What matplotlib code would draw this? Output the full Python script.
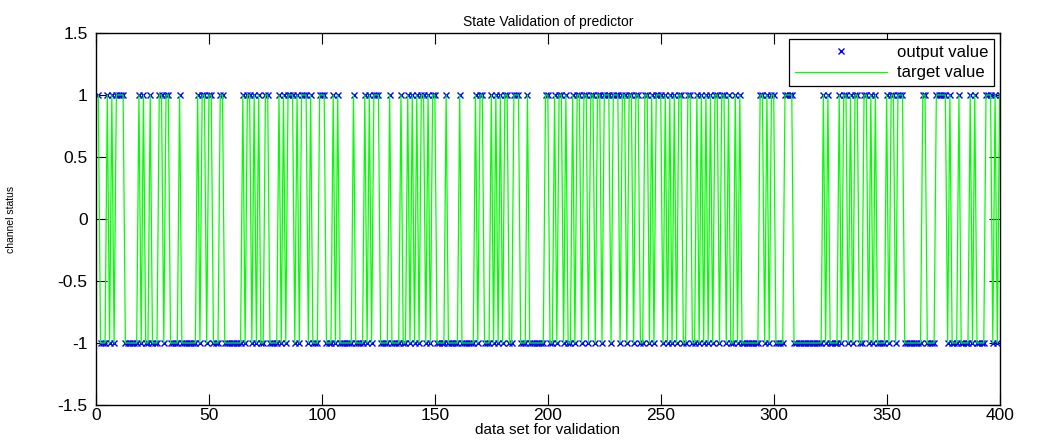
import numpy as np
import matplotlib.pyplot as plt

plt.rcParams['font.family'] = ['Liberation Sans', 'DejaVu Sans']

# channel state per sample (1 = busy, 0 = idle) in blocks of 50
s001_050 = [1,0,0,0,1,0,1,0,1,1, 1,1,0,0,0,0,0,0,1,0, 1,0,0,1,0,0,0,1,1,0, 1,1,0,0,0,0,1,0,0,0, 0,0,0,0,1,0,1,1,0,1]
s051_100 = [1,0,0,0,1,1,0,0,0,0, 0,0,0,0,1,0,1,1,0,1, 0,1,0,0,1,1,0,0,0,0, 1,0,1,0,1,1,1,0,1,0, 1,1,1,0,1,0,0,0,1,1]
s101_150 = [1,0,0,0,1,0,1,0,0,0, 0,0,0,1,0,0,0,0,1,0, 1,0,1,1,1,0,0,0,0,1, 0,0,0,0,1,0,0,1,0,1, 0,1,0,1,1,0,1,0,1,1]
s151_200 = [0,0,0,0,1,0,0,0,0,0, 1,0,0,0,0,0,0,1,0,1, 1,0,0,0,1,0,1,0,1,0, 1,1,0,0,1,1,1,0,0,0, 1,0,0,0,0,0,0,0,1,1]
s201_250 = [0,0,1,0,1,1,0,1,0,0, 1,0,1,1,0,1,1,0,1,1, 0,1,1,0,1,1,1,0,1,1, 1,0,1,1,0,1,1,0,1,1, 0,0,1,1,0,1,0,1,1,1]
s251_300 = [0,1,0,1,0,1,0,1,1,0, 0,1,1,0,0,1,0,1,0,1, 0,1,0,1,1,0,1,1,0,1, 0,0,1,0,1,0,0,0,0,0, 0,0,0,1,1,0,1,0,1,1]
s301_350 = [0,0,0,0,1,1,1,1,0,0, 0,0,0,0,0,0,0,0,0,0, 0,1,0,1,0,0,0,0,1,0, 1,1,0,1,0,1,1,0,0,1, 1,0,1,0,1,0,0,0,0,1]
s351_400 = [0,1,1,0,1,1,1,0,0,0, 0,0,0,0,0,1,1,0,0,0, 0,1,1,1,1,1,0,1,0,0, 0,1,0,0,0,0,1,0,1,0, 0,0,0,1,1,1,0,1,0,1]

states = np.array(s001_050 + s051_100 + s101_150 + s151_200 +
                  s201_250 + s251_300 + s301_350 + s351_400)
target = 2 * states - 1          # -1 / +1
output = target.copy()           # predictor output matches the target
x = np.arange(1, len(target) + 1)

fig = plt.figure(figsize=(10.38, 4.45), dpi=100)
ax = fig.add_axes([0.0925, 0.0899, 0.8705, 0.836])

ax.plot(x, output, 'x', color='#0000ff', markersize=4.5, markeredgewidth=1.0,
        label='output value')
ax.plot(x, target, '-', color='#00ff00', linewidth=0.9, label='target value')

ax.set_xlim(0, 400)
ax.set_ylim(-1.5, 1.5)
ax.set_xticks(np.arange(0, 401, 50))
ax.set_yticks([-1.5, -1, -0.5, 0, 0.5, 1, 1.5])
ax.set_yticklabels(['-1.5', '-1', '-0.5', '0', '0.5', '1', '1.5'])
ax.tick_params(direction='in', top=True, right=True, length=8, width=0.8,
               labelsize=12.5)
ax.tick_params(axis='x', pad=2)
ax.tick_params(axis='y', pad=6)
for sp in ax.spines.values():
    sp.set_linewidth(1.0)

ax.set_title('State Validation of predictor', fontsize=10, pad=5)
ax.set_xlabel('data set for validation', fontsize=11, labelpad=0)
ax.set_ylabel('channel status', fontsize=7.5, labelpad=30)

leg = ax.legend(loc='upper right', fontsize=12, fancybox=False, framealpha=1,
                edgecolor='black', borderaxespad=0.35, handlelength=5.5,
                handletextpad=0.6, labelspacing=0.35, borderpad=0.35)
leg.get_frame().set_linewidth(0.9)

fig.savefig('out.png', dpi=100)
